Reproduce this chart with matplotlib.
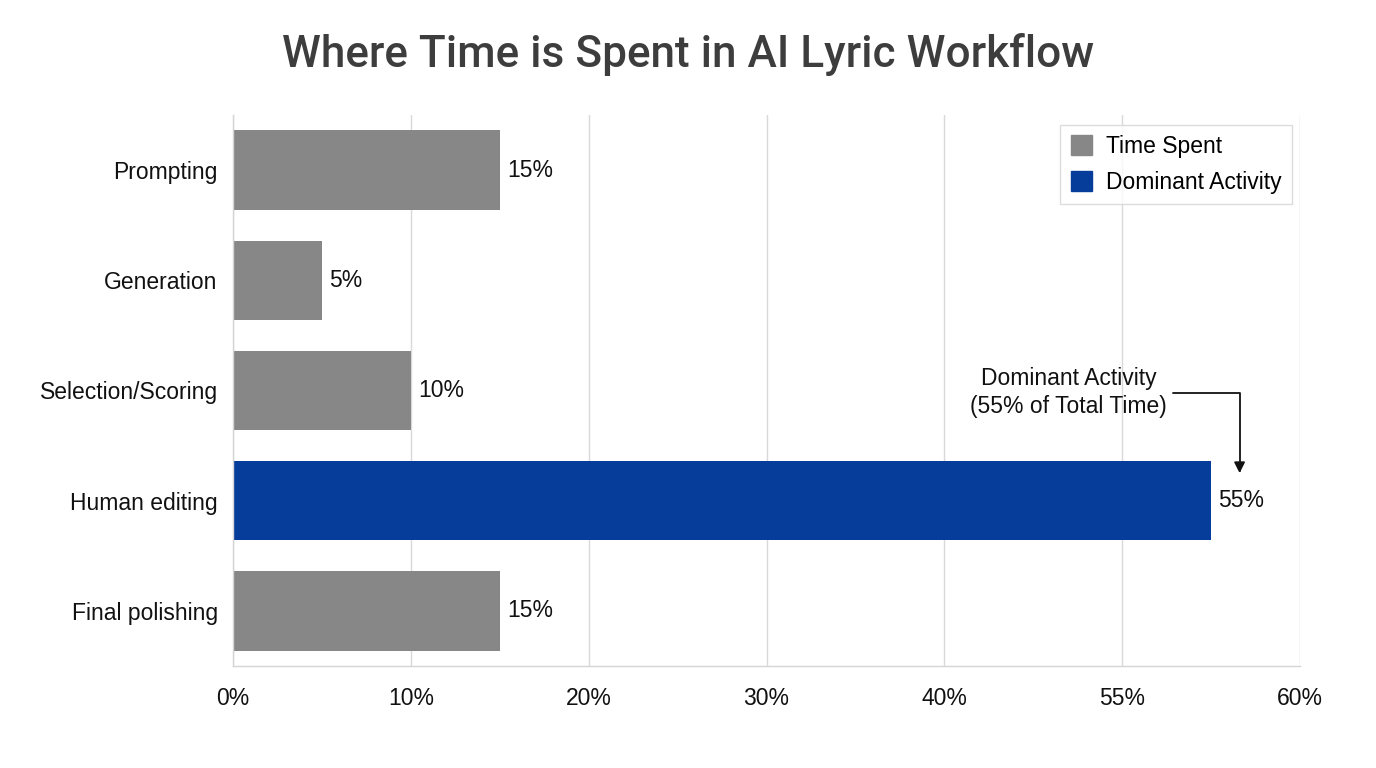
import matplotlib.pyplot as plt
from matplotlib.patches import Patch

plt.rcParams['font.family'] = ['Liberation Sans', 'DejaVu Sans']

stages = ["Prompting", "Generation", "Selection/Scoring", "Human editing", "Final polishing"]
time_pct = [15, 5, 10, 55, 15]
dominant = [False, False, False, True, False]
tick_pos = [0, 10, 20, 30, 40, 50, 60]
tick_labels = ["0%", "10%", "20%", "30%", "40%", "55%", "60%"]

GRAY = "#878787"
BLUE = "#063d9b"
FS = 16.5

fig = plt.figure(figsize=(13.76, 7.68), dpi=100)
ax = fig.add_axes([0.1693, 0.1328, 0.7755, 0.7175])

colors = [BLUE if d else GRAY for d in dominant]
ypos = list(range(len(stages)))
ax.barh(ypos, time_pct, height=0.72, color=colors, zorder=2)

for y, v in zip(ypos, time_pct):
    ax.text(v + 0.4, y, f"{v}%", va='center', ha='left', fontsize=FS, color='#111111')

ax.set_xlim(0, 60)
ax.set_ylim(len(stages) - 0.5, -0.5)
ax.set_yticks(ypos)
ax.set_yticklabels(stages, fontsize=FS, color='#111111')
ax.set_xticks(tick_pos)
ax.set_xticklabels(tick_labels, fontsize=FS, color='#111111')
ax.tick_params(axis='x', length=0, pad=15)
ax.tick_params(axis='y', length=0, pad=11)

ax.set_axisbelow(True)
ax.grid(axis='x', color='#d9d9d9', linewidth=1)
for s in ['top', 'right']:
    ax.spines[s].set_visible(False)
for s in ['left', 'bottom']:
    ax.spines[s].set_color('#d4d4d4')
    ax.spines[s].set_linewidth(1)

# legend
handles = [Patch(color=GRAY, label="Time Spent"), Patch(color=BLUE, label="Dominant Activity")]
leg = ax.legend(handles=handles, loc='upper right', bbox_to_anchor=(0.9925, 0.982), fontsize=FS,
                frameon=True, fancybox=False, edgecolor='#d4d4d4', handlelength=0.95,
                handleheight=0.95, handletextpad=0.6, borderpad=0.45, labelspacing=0.55,
                borderaxespad=0)
leg.get_frame().set_linewidth(1)

# annotation for dominant bar
ax.annotate("Dominant Activity\n(55% of Total Time)", xy=(56.6, 2.75), xytext=(47.0, 2.02),
            ha='center', va='center', fontsize=FS, color='#111111', linespacing=1.25,
            arrowprops=dict(arrowstyle='-|>', color='#111111', lw=1.3,
                            connectionstyle='angle,angleA=0,angleB=90,rad=0',
                            relpos=(1.0, 0.5), shrinkA=2, shrinkB=0, mutation_scale=16))

fig.text(0.5, 0.929, "Where Time is Spent in AI Lyric Workflow", ha='center', va='center',
         fontsize=31.8, color='#3d3d3d', fontweight='medium', family=['Roboto', 'DejaVu Sans'])

fig.savefig("out.png", dpi=100, facecolor='white')
